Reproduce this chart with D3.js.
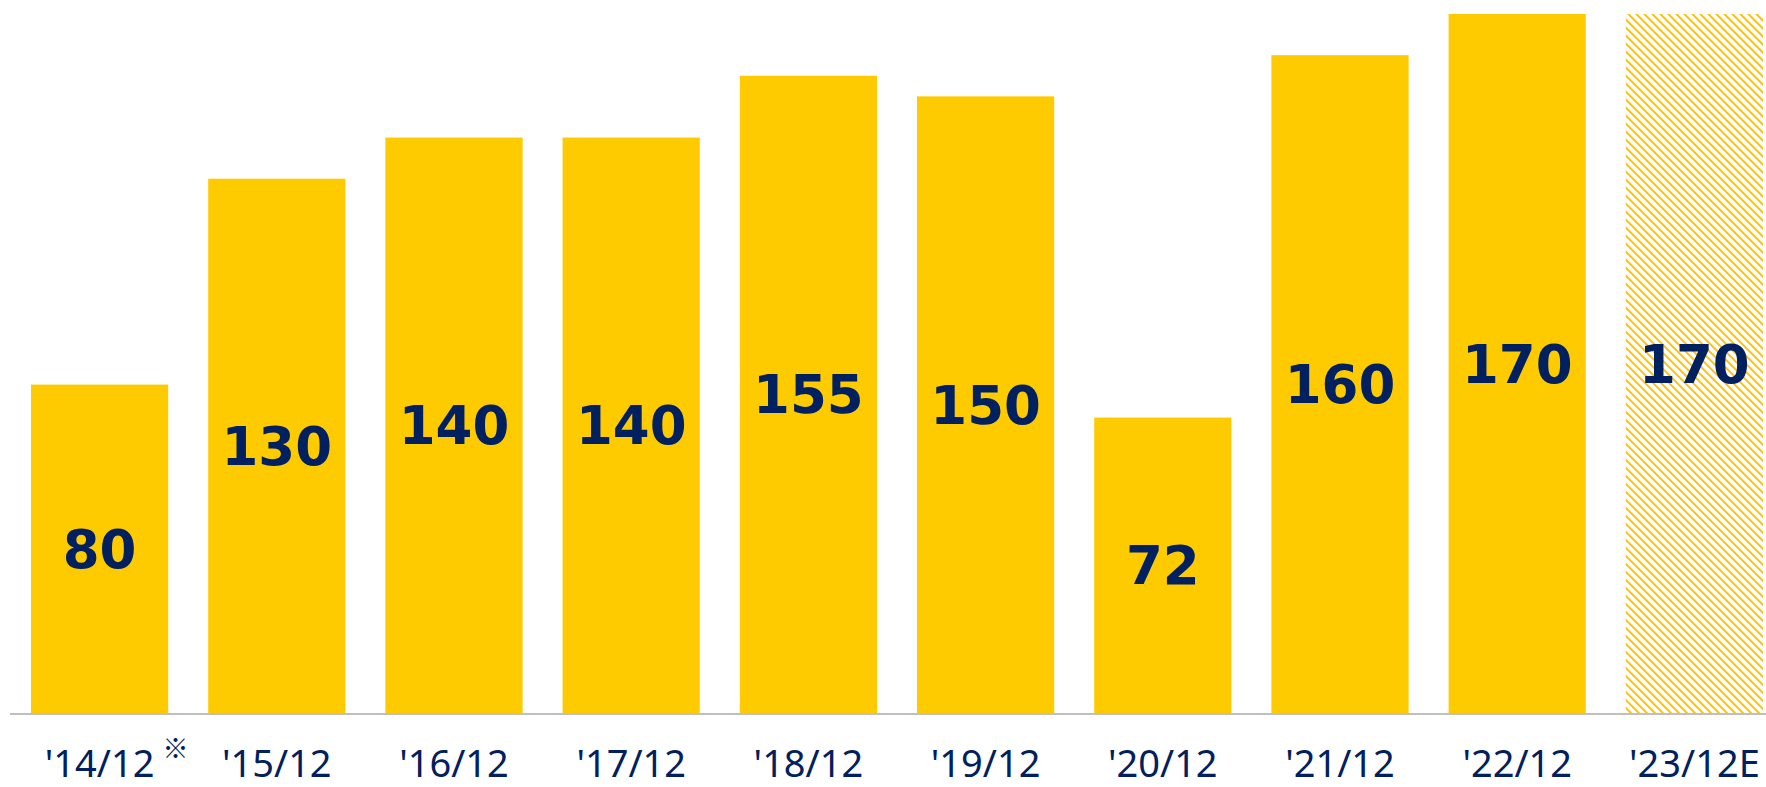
<!DOCTYPE html>
<html>
<head>
<meta charset="utf-8">
<script src="https://cdn.jsdelivr.net/npm/d3@7"></script>
<style>
  body { margin: 0; background: #fff; }
  .bar-labels { font-family: "DejaVu Sans", Verdana, sans-serif; font-weight: bold; fill: #002060; }
  .tick-labels { font-family: "Noto Sans", sans-serif; fill: #002060; }
  .note { font-family: "Noto Sans CJK JP", sans-serif; fill: #002060; }
</style>
</head>
<body>
<div id="chart"></div>
<script>
var categories = ["'14/12", "'15/12", "'16/12", "'17/12", "'18/12", "'19/12", "'20/12", "'21/12", "'22/12", "'23/12E"];
var values = [80, 130, 140, 140, 155, 150, 72, 160, 170, 170];
var estimate = [false, false, false, false, false, false, false, false, false, true];
var noteMark = "※";

var width = 1766, height = 787;
var margin = {top: 14, right: 0, bottom: 73, left: 10};
var innerW = width - margin.left - margin.right;
var innerH = height - margin.top - margin.bottom;

var svg = d3.select("#chart").append("svg")
    .attr("width", width)
    .attr("height", height);

var defs = svg.append("defs");
var pat = defs.append("pattern")
    .attr("id", "hatch")
    .attr("patternUnits", "userSpaceOnUse")
    .attr("width", 5.66)
    .attr("height", 5.66)
    .attr("patternTransform", "rotate(-45)");
pat.append("rect")
    .attr("x", 0).attr("y", 0)
    .attr("width", 2).attr("height", 5.66)
    .attr("fill", "#ffc000");

var g = svg.append("g")
    .attr("transform", "translate(" + margin.left + "," + margin.top + ")");

// step ~177px, bar ~137px
var x = d3.scaleBand()
    .range([21, 21 + 10 * 177.2 - 40])
    .domain(categories)
    .paddingInner(40 / 177.2)
    .paddingOuter(0);

var y = d3.scaleLinear()
    .range([innerH, 0])
    .domain([0, 170]);

g.selectAll("rect.bar").data(values).enter().append("rect")
    .attr("class", "bar")
    .attr("x", (d, i) => x(categories[i]))
    .attr("y", (d) => y(d))
    .attr("width", x.bandwidth())
    .attr("height", (d) => innerH - y(d))
    .attr("fill", (d, i) => estimate[i] ? "url(#hatch)" : "#fecb00");

// baseline
g.append("line")
    .attr("x1", 0).attr("x2", innerW)
    .attr("y1", innerH).attr("y2", innerH)
    .attr("stroke", "#bfbfbf")
    .attr("stroke-width", 2);

g.selectAll("text.bar-labels").data(values).enter().append("text")
    .attr("class", "bar-labels")
    .attr("text-anchor", "middle")
    .attr("dominant-baseline", "central")
    .attr("x", (d, i) => x(categories[i]) + x.bandwidth() / 2)
    .attr("y", (d) => (y(d) + innerH) / 2)
    .attr("font-size", 53)
    .text((d) => d);

g.selectAll("text.tick-labels").data(categories).enter().append("text")
    .attr("class", "tick-labels")
    .attr("text-anchor", "middle")
    .attr("x", (d) => x(d) + x.bandwidth() / 2)
    .attr("y", innerH + 63)
    .attr("font-size", 38)
    .text((d) => d);

// note mark after the first label
g.append("text")
    .attr("class", "note")
    .attr("x", x(categories[0]) + x.bandwidth() / 2 + 63)
    .attr("y", innerH + 44)
    .attr("font-size", 26)
    .text(noteMark);
</script>
</body>
</html>
